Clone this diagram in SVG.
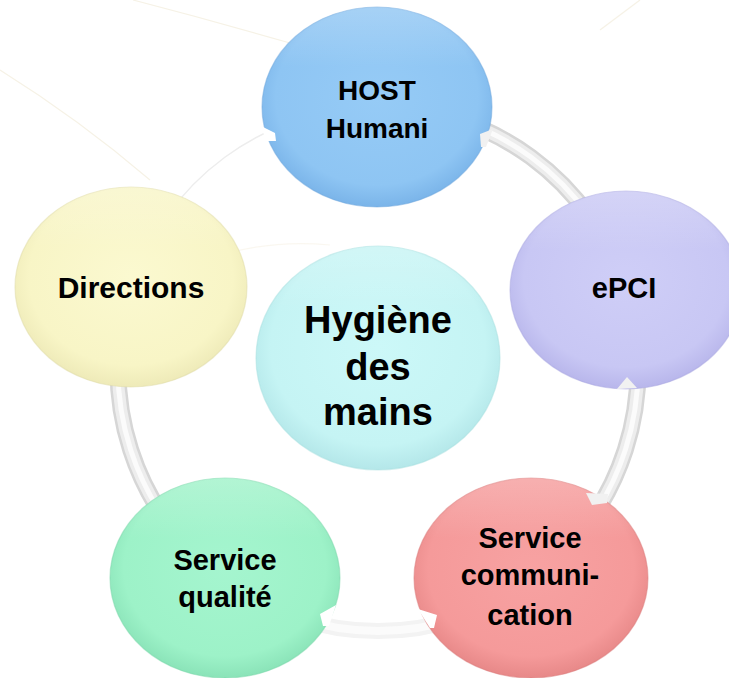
<svg xmlns="http://www.w3.org/2000/svg" width="729" height="678" viewBox="0 0 729 678">
<style>
.lbl{font-family:"Liberation Sans",Arial,sans-serif;font-weight:bold;fill:#000;text-anchor:middle}
.bg{fill:none;stroke:#f6f2e6;stroke-width:1.2}
.tube0{fill:none;stroke:#d6d6d6;stroke-width:17}
.tube1{fill:none;stroke:#ededed;stroke-width:12}
.tube2{fill:none;stroke:#fbfbfb;stroke-width:5}
.rim{stroke-width:1.2;stroke-opacity:0.5}
.notch{fill:#ffffff}
.notcht{fill:#f1f1f1}
</style>
<defs>
<radialGradient id="gBlue" cx="50%" cy="45%" r="55%"><stop offset="0" stop-color="#96cbf6"/><stop offset="0.8" stop-color="#8ec5f3"/><stop offset="1" stop-color="#7ab4e9"/></radialGradient>
<radialGradient id="gYellow" cx="50%" cy="45%" r="55%"><stop offset="0" stop-color="#fbf9d0"/><stop offset="0.8" stop-color="#f8f5c6"/><stop offset="1" stop-color="#eeeab8"/></radialGradient>
<radialGradient id="gViolet" cx="50%" cy="45%" r="55%"><stop offset="0" stop-color="#cfcef7"/><stop offset="0.8" stop-color="#c8c7f4"/><stop offset="1" stop-color="#b8b6eb"/></radialGradient>
<radialGradient id="gCyan" cx="50%" cy="45%" r="55%"><stop offset="0" stop-color="#ccf8f8"/><stop offset="0.8" stop-color="#c5f4f4"/><stop offset="1" stop-color="#b4e7e9"/></radialGradient>
<radialGradient id="gGreen" cx="50%" cy="45%" r="55%"><stop offset="0" stop-color="#a5f5cf"/><stop offset="0.8" stop-color="#9df2c8"/><stop offset="1" stop-color="#8ae3b8"/></radialGradient>
<radialGradient id="gRed" cx="50%" cy="45%" r="55%"><stop offset="0" stop-color="#f7a2a2"/><stop offset="0.8" stop-color="#f59a9a"/><stop offset="1" stop-color="#e78888"/></radialGradient>
<linearGradient id="shine" x1="0" y1="0" x2="0" y2="1"><stop offset="0" stop-color="#fff" stop-opacity="0.22"/><stop offset="0.3" stop-color="#fff" stop-opacity="0"/></linearGradient>
</defs>
<rect width="729" height="678" fill="#fff"/>
<g id="background">
<path class="bg" d="M0,70 Q80,120 150,180"/>
<path class="bg" d="M133,0 Q210,20 290,43"/>
<path class="bg" d="M640,0 Q620,15 600,30"/>
<path class="bg" d="M232,252 Q280,240 330,245" stroke-opacity="0.6"/>
</g>
<g id="connectors">
<path d="M130.7,288 A260,262 0 0 1 378,107" fill="none" stroke="#ededed" stroke-width="1.5"/>
<path d="M530.8,581 A260,262 0 0 1 225.2,581" fill="none" stroke="#f3f3f3" stroke-width="16"/>
<path d="M530.8,581 A260,262 0 0 1 225.2,581" fill="none" stroke="#fbfbfb" stroke-width="8"/>
<path class="tube0" d="M378,107 A260,262 0 0 1 625.3,288"/>
<path class="tube1" d="M378,107 A260,262 0 0 1 625.3,288"/>
<path class="tube2" d="M378,107 A260,262 0 0 1 625.3,288"/>
<path class="tube0" d="M625.3,288 A260,262 0 0 1 530.8,581"/>
<path class="tube1" d="M625.3,288 A260,262 0 0 1 530.8,581"/>
<path class="tube2" d="M625.3,288 A260,262 0 0 1 530.8,581"/>
<path class="tube0" d="M225.2,581 A260,262 0 0 1 130.7,288"/>
<path class="tube1" d="M225.2,581 A260,262 0 0 1 130.7,288"/>
<path class="tube2" d="M225.2,581 A260,262 0 0 1 130.7,288"/>
</g>
<g id="node-host">
<ellipse cx="377" cy="107" rx="115" ry="100" fill="url(#gBlue)" stroke="#6fa8de" class="rim"/>
<ellipse cx="377" cy="107" rx="115" ry="100" fill="url(#shine)"/>
<polygon class="notch" points="261,126 275,133 276,141 266,141"/>
<polygon class="notcht" points="493,129 480,134 481,147 486,147"/>
<text class="lbl" x="377" y="100" font-size="28">HOST</text>
<text class="lbl" x="377" y="138" font-size="28">Humani</text>
</g>
<g id="node-directions">
<ellipse cx="131" cy="287" rx="116" ry="100" fill="url(#gYellow)" stroke="#e0dca8" class="rim"/>
<ellipse cx="131" cy="287" rx="116" ry="100" fill="url(#shine)"/>
<text class="lbl" x="131" y="298" font-size="30">Directions</text>
</g>
<g id="node-epci">
<ellipse cx="626" cy="290" rx="116" ry="99" fill="url(#gViolet)" stroke="#aaa8e2" class="rim"/>
<ellipse cx="626" cy="290" rx="116" ry="99" fill="url(#shine)"/>
<polygon class="notcht" points="617,389 627,377 637,388"/>
<text class="lbl" x="624" y="298" font-size="29">ePCI</text>
</g>
<g id="node-center">
<ellipse cx="378" cy="358" rx="122" ry="112" fill="url(#gCyan)" stroke="#a6dfe0" class="rim"/>
<ellipse cx="378" cy="358" rx="122" ry="112" fill="url(#shine)"/>
<text class="lbl" x="378" y="333" font-size="38">Hygiène</text>
<text class="lbl" x="378" y="380" font-size="38">des</text>
<text class="lbl" x="378" y="425" font-size="38">mains</text>
</g>
<g id="node-qualite">
<ellipse cx="225" cy="578" rx="115" ry="100" fill="url(#gGreen)" stroke="#7ad7aa" class="rim"/>
<ellipse cx="225" cy="578" rx="115" ry="100" fill="url(#shine)"/>
<polygon class="notch" points="336,605 320,614 323,626 329,626"/>
<text class="lbl" x="225" y="570" font-size="29">Service</text>
<text class="lbl" x="225" y="607" font-size="29">qualité</text>
</g>
<g id="node-communication">
<ellipse cx="531" cy="578" rx="117" ry="100" fill="url(#gRed)" stroke="#dc7b7b" class="rim"/>
<ellipse cx="531" cy="578" rx="117" ry="100" fill="url(#shine)"/>
<polygon class="notch" points="418,609 437,615 434,628 430,628"/>
<polygon class="notcht" points="586,493 592,505 607,503 608,494"/>
<text class="lbl" x="530" y="548" font-size="29">Service</text>
<text class="lbl" x="530" y="585" font-size="29">communi-</text>
<text class="lbl" x="530" y="625" font-size="29">cation</text>
</g>
</svg>
